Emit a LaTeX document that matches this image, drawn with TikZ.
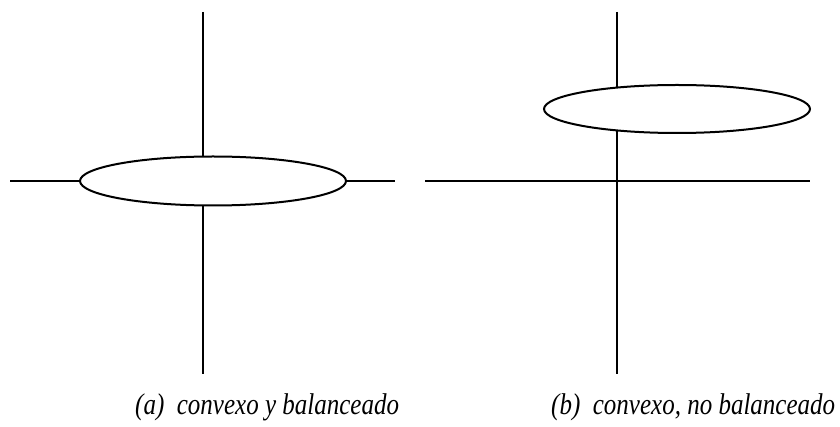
\documentclass[tikz,border=0pt]{standalone}
\usepackage{fontspec}
\setmainfont{Liberation Serif}
\begin{document}
\begin{tikzpicture}[x=1pt,y=-1pt,
  axis/.style={line width=2pt},
  oval/.style={draw,fill=white,line width=2pt},
  captext/.style={font=\fontsize{25}{30}\selectfont\itshape,anchor=base west,inner sep=0pt}]
\useasboundingbox (0,0) rectangle (840,427);
% left panel
\coordinate (la) at (10,181);
\coordinate (lb) at (395,181);
\coordinate (lt) at (203,12);
\coordinate (lu) at (203,374);
\draw[axis] (la) -- (lb);
\draw[axis] (lt) -- (lu);
\path[oval] (213,181) ellipse [x radius=133, y radius=24.5];
% right panel
\coordinate (ra) at (425,181);
\coordinate (rb) at (810,181);
\coordinate (rt) at (617,12);
\coordinate (ru) at (617,374);
\draw[axis] (ra) -- (rb);
\draw[axis] (rt) -- (ru);
\path[oval] (677,109) ellipse [x radius=133, y radius=24];
% captions
\node[captext] (ca) at (135,414) {\scalebox{1}[1.2]{(a)\ \ convexo y balanceado}};
\node[captext] (cb) at (551,414) {\scalebox{1}[1.2]{(b)\ \ convexo, no balanceado}};
\end{tikzpicture}
\end{document}
